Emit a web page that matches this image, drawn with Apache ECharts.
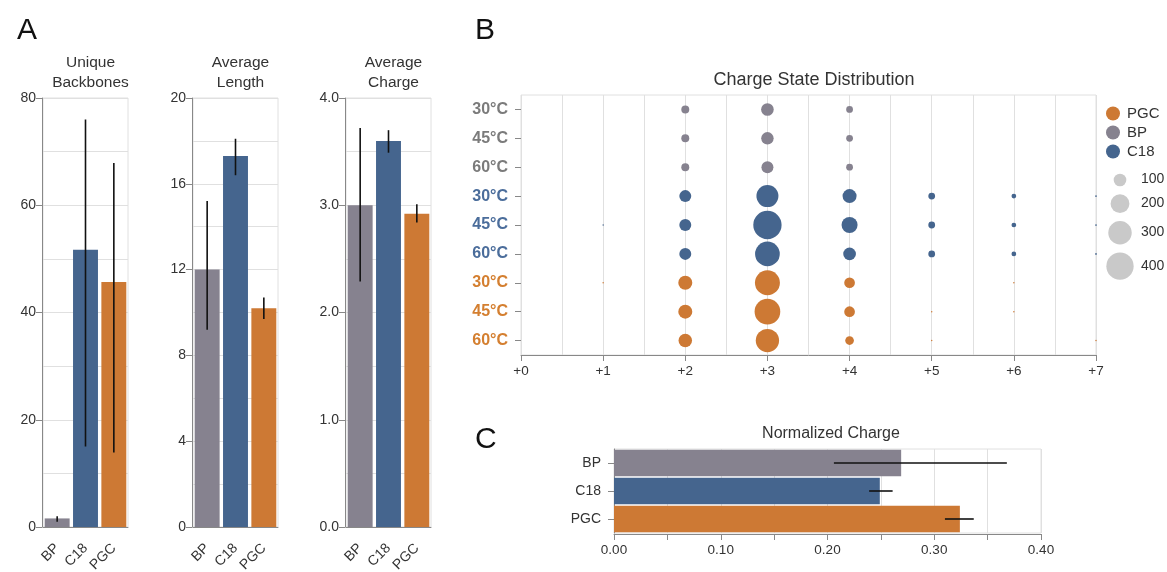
<!DOCTYPE html>
<html>
<head>
<meta charset="utf-8">
<script src="https://cdn.jsdelivr.net/npm/echarts@6/dist/echarts.min.js"></script>
<style>html,body{margin:0;padding:0;background:#fff;}#c{width:1167px;height:572px;}</style>
</head>
<body>
<div id="c"></div>
<script>
// ---------- data ----------
const groups = ['BP', 'C18', 'PGC'];
const groupColors = ['#86828f', '#45658e', '#cd7934'];
const labelColors = ['#7b7b7b', '#4b6d9b', '#d47f30'];

const backboneMean = [1.6, 51.7, 45.7];
const backboneLow = [1.0, 15.0, 13.9];
const backboneHigh = [2.0, 76.0, 67.9];

const lengthMean = [12.0, 17.3, 10.2];
const lengthLow = [9.2, 16.4, 9.7];
const lengthHigh = [15.2, 18.1, 10.7];

const chargeMean = [3.0, 3.6, 2.92];
const chargeLow = [2.29, 3.49, 2.84];
const chargeHigh = [3.72, 3.70, 3.01];

const normMean = [0.269, 0.249, 0.324];
const normLow = [0.206, 0.239, 0.310];
const normHigh = [0.368, 0.261, 0.337];

const temps = ['30°C', '45°C', '60°C'];
const chargeStates = [0, 1, 2, 3, 4, 5, 6, 7];
// counts per charge state (+0 ... +7); 0 = no point
const bp30 = [0, 0, 51, 100, 42, 0, 0, 0];
const bp45 = [0, 0, 51, 98, 42, 0, 0, 0];
const bp60 = [0, 0, 51, 92, 42, 0, 0, 0];
const c18_30 = [0, 0, 92, 267, 119, 42, 30, 20];
const c18_45 = [0, 19.5, 92, 429, 150, 42, 30, 20];
const c18_60 = [0, 0, 92, 331, 101, 42, 30, 20];
const pgc30 = [0, 19.5, 119, 339, 77, 0, 19.5, 0];
const pgc45 = [0, 0, 119, 357, 77, 19.5, 19.5, 0];
const pgc60 = [0, 0, 112, 297, 57, 19.5, 0, 19.5];
const sizeLegendValues = [100, 200, 300, 400];

// ---------- helpers ----------
const FONT = "'Liberation Sans', Arial, sans-serif";
const sizeFn = v => v > 0 ? Math.sqrt(Math.max(1.95 * v - 36, 1)) : 0;
const AXIS = '#888888', GRIDC = '#e0e0e0', TXT = '#333';

const bubbleRows = [[bp30, bp45, bp60], [c18_30, c18_45, c18_60], [pgc30, pgc45, pgc60]];
const rowCats = [];
groups.forEach(g => temps.forEach(t => rowCats.push(g + '|' + t)));

const chart = echarts.init(document.getElementById('c'), null, {renderer: 'canvas'});

const aGrids = [
  {left: 43, top: 98, width: 85, height: 429},
  {left: 193, top: 98, width: 85, height: 429},
  {left: 346, top: 98, width: 85, height: 429}
];
const aTitles = ['Unique\nBackbones', 'Average\nLength', 'Average\nCharge'];
const aMax = [80, 20, 4];
const aInt = [20, 4, 1];
const aFmt = [v => v, v => v, v => v.toFixed(1)];
const aMeans = [backboneMean, lengthMean, chargeMean];
const aLows = [backboneLow, lengthLow, chargeLow];
const aHighs = [backboneHigh, lengthHigh, chargeHigh];

const grid = [], xAxis = [], yAxis = [], series = [], title = [];

const letterStyle = {fontSize: 30, fontWeight: 'normal', color: '#111', fontFamily: FONT};
title.push({text: 'A', left: 12, top: 11, textStyle: letterStyle});
title.push({text: 'B', left: 470, top: 11, textStyle: letterStyle});
title.push({text: 'C', left: 470, top: 420, textStyle: letterStyle});

const errRender = (horizontal) => (params, api) => {
  let p1, p2;
  if (horizontal) {
    p1 = api.coord([api.value(0), api.value(1)]);
    p2 = api.coord([api.value(2), api.value(1)]);
  } else {
    p1 = api.coord([api.value(0), api.value(1)]);
    p2 = api.coord([api.value(0), api.value(2)]);
  }
  return {type: 'line', shape: {x1: p1[0], y1: p1[1], x2: p2[0], y2: p2[1]}, style: {stroke: '#111', lineWidth: 1.6}};
};

const gridBase = {show: true, borderColor: GRIDC, borderWidth: 1, backgroundColor: 'transparent',
  containLabel: false, outerBoundsMode: 'none'};

aGrids.forEach((g, i) => {
  grid.push(Object.assign({}, gridBase, g));
  title.push({text: aTitles[i], left: g.left + g.width / 2, top: 48, textAlign: 'center',
    textStyle: {fontSize: 15.5, fontWeight: 'normal', color: TXT, fontFamily: FONT, lineHeight: 20}});
  xAxis.push({type: 'category', gridIndex: i, data: groups, offset: 8,
    axisLine: {lineStyle: {color: AXIS, width: 1}},
    axisTick: {alignWithLabel: true, length: 6, lineStyle: {color: AXIS}},
    axisLabel: {rotate: 45, fontSize: 14, color: TXT, fontFamily: FONT, margin: 11},
    splitLine: {show: false}});
  yAxis.push({type: 'value', gridIndex: i, min: 0, max: aMax[i], interval: aInt[i], offset: 1,
    axisLine: {show: true, lineStyle: {color: AXIS}},
    axisTick: {show: true, length: 6, lineStyle: {color: AXIS}},
    axisLabel: {fontSize: 14, color: TXT, fontFamily: FONT, margin: 6, formatter: aFmt[i]},
    splitLine: {show: true, lineStyle: {color: GRIDC}},
    minorTick: {show: false, splitNumber: 2},
    minorSplitLine: {show: true, lineStyle: {color: GRIDC}}});
  series.push({type: 'bar', xAxisIndex: i, yAxisIndex: i, barCategoryGap: '12%',
    data: aMeans[i].map((v, k) => ({value: v, itemStyle: {color: groupColors[k]}}))});
  series.push({type: 'custom', xAxisIndex: i, yAxisIndex: i, z: 5, renderItem: errRender(false),
    data: groups.map((gname, k) => [k, aLows[i][k], aHighs[i][k]])});
});

// ---------- panel B ----------
const bIdx = 3;
grid.push(Object.assign({}, gridBase, {left: 521, top: 95, width: 575, height: 260}));
title.push({text: 'Charge State Distribution', left: 809, top: 66, textAlign: 'center',
  textStyle: {fontSize: 18, fontWeight: 'normal', color: TXT, fontFamily: FONT}});
xAxis.push({type: 'value', gridIndex: bIdx, min: 0, max: 7, interval: 1,
  axisLine: {show: true, onZero: false, lineStyle: {color: AXIS}},
  axisTick: {show: true, length: 6, lineStyle: {color: AXIS}},
  axisLabel: {fontSize: 13.5, color: TXT, fontFamily: FONT, margin: 9, formatter: v => '+' + v},
  splitLine: {show: true, lineStyle: {color: GRIDC}},
  minorTick: {show: false, splitNumber: 2},
  minorSplitLine: {show: true, lineStyle: {color: GRIDC}}});
const rich = {};
groups.forEach((g, k) => { rich[g] = {color: labelColors[k], fontWeight: 'bold', fontSize: 16, fontFamily: FONT}; });
yAxis.push({type: 'category', gridIndex: bIdx, data: rowCats, inverse: true,
  axisLine: {show: false},
  axisTick: {show: true, alignWithLabel: true, length: 6, lineStyle: {color: AXIS}},
  axisLabel: {margin: 13, formatter: v => { const p = v.split('|'); return '{' + p[0] + '|' + p[1] + '}'; }, rich: rich},
  splitLine: {show: false}});
groups.forEach((g, gi) => {
  const data = [];
  bubbleRows[gi].forEach((row, ti) => {
    row.forEach((v, c) => { if (v > 0) data.push([chargeStates[c], gi * 3 + ti, v]); });
  });
  series.push({type: 'scatter', name: g, xAxisIndex: bIdx, yAxisIndex: bIdx, data: data,
    symbolSize: val => sizeFn(val[2]), itemStyle: {color: groupColors[gi], opacity: 1}, z: 3});
});

// ---------- panel C ----------
const cIdx = 4;
grid.push(Object.assign({}, gridBase, {left: 614, top: 449, width: 427, height: 84}));
title.push({text: 'Normalized Charge', left: 826, top: 421, textAlign: 'center',
  textStyle: {fontSize: 16, fontWeight: 'normal', color: TXT, fontFamily: FONT}});
xAxis.push({type: 'value', gridIndex: cIdx, min: 0, max: 0.4, interval: 0.1, offset: 1,
  axisLine: {show: true, onZero: false, lineStyle: {color: AXIS}},
  axisTick: {show: true, length: 6, lineStyle: {color: AXIS}},
  axisLabel: {fontSize: 13.5, color: TXT, fontFamily: FONT, margin: 9, formatter: v => v.toFixed(2)},
  splitLine: {show: true, lineStyle: {color: GRIDC}},
  minorTick: {show: true, splitNumber: 2, length: 6, lineStyle: {color: AXIS}},
  minorSplitLine: {show: true, lineStyle: {color: GRIDC}}});
yAxis.push({type: 'category', gridIndex: cIdx, data: groups, inverse: true, offset: 10,
  axisLine: {show: true, lineStyle: {color: AXIS}},
  axisTick: {show: true, alignWithLabel: true, length: 6, lineStyle: {color: AXIS}},
  axisLabel: {fontSize: 14, color: TXT, fontFamily: FONT, margin: 3},
  splitLine: {show: false}});
series.push({type: 'bar', xAxisIndex: cIdx, yAxisIndex: cIdx, barCategoryGap: '6%',
  data: normMean.map((v, k) => ({value: v, itemStyle: {color: groupColors[k]}}))});
series.push({type: 'custom', xAxisIndex: cIdx, yAxisIndex: cIdx, z: 5, renderItem: errRender(true),
  data: groups.map((g, k) => [normLow[k], k, normHigh[k]])});

// ---------- size legend (layout derived from sizes) ----------
const graphic = [];
let yPos = 180, prevD = null;
sizeLegendValues.forEach((v, i) => {
  const d = sizeFn(v);
  if (prevD !== null) yPos += (prevD + d) / 2 + 8;
  graphic.push({type: 'circle', left: 1120 - d / 2, top: yPos - d / 2, shape: {r: d / 2}, style: {fill: '#c9c9c9'}});
  graphic.push({type: 'text', left: 1141, top: yPos - 7.5, style: {text: String(v), fontSize: 14, fill: TXT, fontFamily: FONT}});
  prevD = d;
});

chart.setOption({
  animation: false,
  textStyle: {fontFamily: FONT},
  title: title,
  grid: grid,
  xAxis: xAxis,
  yAxis: yAxis,
  series: series,
  graphic: graphic,
  legend: {data: ['PGC', 'BP', 'C18'], orient: 'vertical', left: 1101, top: 101, icon: 'circle',
    itemWidth: 14, itemHeight: 14, itemGap: 4,
    textStyle: {fontSize: 15, color: TXT, fontFamily: FONT, padding: [0, 0, 0, 2]}, selectedMode: false}
});
</script>
</body>
</html>
